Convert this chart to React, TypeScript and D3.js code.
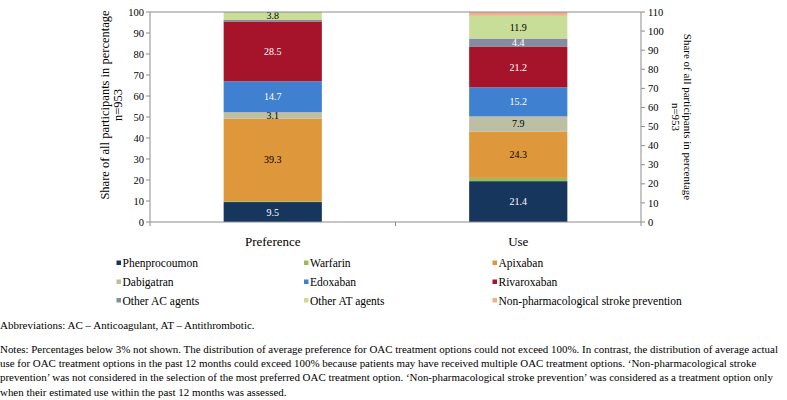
import React from "react";
import * as d3 from "d3";

const categories = ["Preference", "Use"];
const seriesNames = [
  "Phenprocoumon",
  "Warfarin",
  "Apixaban",
  "Dabigatran",
  "Edoxaban",
  "Rivaroxaban",
  "Other AC agents",
  "Other AT agents",
  "Non-pharmacological stroke prevention",
];
const preferenceValues = [9.5, 0.4, 39.3, 3.1, 14.7, 28.5, 0.7, 3.8, 0];
const useValues = [21.4, 1.7, 24.3, 7.9, 15.2, 21.2, 4.4, 11.9, 2.0];
const seriesColors = [
  "#17365D",
  "#9BBB59",
  "#DE973A",
  "#BDBFA2",
  "#3F80D0",
  "#A6142B",
  "#868CA0",
  "#C8DD98",
  "#F0B08E",
];
const labelColors = ["#fff", "#000", "#000", "#000", "#fff", "#fff", "#fff", "#000", "#000"];
const leftTicks = [0, 10, 20, 30, 40, 50, 60, 70, 80, 90, 100];
const rightTicks = [0, 10, 20, 30, 40, 50, 60, 70, 80, 90, 100, 110];
const axisTitle = "Share of all participants in percentage";
const axisSub = "n=953";
const abbreviations = "Abbreviations: AC – Anticoagulant, AT – Antithrombotic.";
const notes = [
  "Notes: Percentages below 3% not shown. The distribution of average preference for OAC treatment options could not exceed 100%. In contrast, the distribution of average actual",
  "use for OAC treatment options in the past 12 months could exceed 100% because patients may have received multiple OAC treatment options. \u2018Non-pharmacological stroke",
  "prevention\u2019 was not considered in the selection of the most preferred OAC treatment option. \u2018Non-pharmacological stroke prevention\u2019 was considered as a treatment option only",
  "when their estimated use within the past 12 months was assessed.",
];

const FONT = '"Liberation Serif", "DejaVu Serif", serif';

export default function App() {
  const W = 787, H = 400;
  const left = 150, right = 641, top = 12, bottom = 222;
  const x = d3.scaleBand<string>().domain(categories).range([left, right]).paddingInner(0.6).paddingOuter(0.3);
  const yL = d3.scaleLinear().domain([0, 100]).range([bottom, top]);
  const yR = d3.scaleLinear().domain([0, 110]).range([bottom, top]);

  const table = categories.map((c, i) => {
    const row: any = { cat: c };
    seriesNames.forEach((s, j) => {
      row[s] = i === 0 ? preferenceValues[j] : useValues[j];
    });
    return row;
  });
  const stacked = d3.stack<any>().keys(seriesNames)(table);
  const scaleFor = (cat: string) => (cat === "Use" ? yR : yL);

  const axisColor = "#8c8c8c";
  const legendCols = [116.5, 304, 492.5];
  const legendRows = [263, 282, 300.5];
  const ts = { fontFamily: FONT };

  return (
    <svg width={W} height={H} style={{ position: "absolute", left: 0, top: 0, background: "#fff", fontFamily: FONT }}>
      <defs>
        <clipPath id="plotClip">
          <rect x={left} y={top} width={right - left} height={bottom - top} />
        </clipPath>
      </defs>
      {/* bars */}
      <g clipPath="url(#plotClip)">
        {stacked.map((layer, si) =>
          layer.map((d, ci) => {
            const cat = categories[ci];
            const y = scaleFor(cat);
            const y0 = y(d[0]);
            const y1 = y(d[1]);
            if (d[1] - d[0] <= 0) return null;
            return (
              <rect
                key={`${si}-${ci}`}
                x={x(cat)}
                y={y1}
                width={x.bandwidth()}
                height={y0 - y1}
                fill={seriesColors[si]}
              />
            );
          })
        )}
      </g>
      {/* labels */}
      {stacked.map((layer, si) =>
        layer.map((d, ci) => {
          const cat = categories[ci];
          const v = d[1] - d[0];
          if (v < 3) return null;
          const y = scaleFor(cat);
          return (
            <text
              key={`l${si}-${ci}`}
              x={(x(cat) as number) + x.bandwidth() / 2}
              y={(y(d[0]) + y(d[1])) / 2}
              dy="0.35em"
              textAnchor="middle"
              fontSize={10}
              fill={labelColors[si]}
              style={ts}
            >
              {v.toFixed(1)}
            </text>
          );
        })
      )}
      {/* plot frame */}
      <line x1={left} x2={right} y1={top} y2={top} stroke={axisColor} strokeWidth={1} />
      <line x1={left} x2={right} y1={bottom} y2={bottom} stroke={axisColor} strokeWidth={1} />
      <line x1={left} x2={left} y1={top} y2={bottom} stroke={axisColor} strokeWidth={1} />
      <line x1={right} x2={right} y1={top} y2={bottom} stroke={axisColor} strokeWidth={1} />
      {/* x ticks */}
      {[left, (left + right) / 2, right].map((tx, i) => (
        <line key={`xt${i}`} x1={tx} x2={tx} y1={bottom} y2={bottom + 4} stroke={axisColor} />
      ))}
      {/* left ticks */}
      {leftTicks.map((t) => (
        <g key={`lt${t}`}>
          <line x1={left - 4} x2={left} y1={yL(t)} y2={yL(t)} stroke={axisColor} />
          <text x={left - 6} y={yL(t)} dy="0.35em" textAnchor="end" fontSize={10.5} fill="#000" style={ts}>
            {t}
          </text>
        </g>
      ))}
      {/* right ticks */}
      {rightTicks.map((t) => (
        <g key={`rt${t}`}>
          <line x1={right} x2={right + 4} y1={yR(t)} y2={yR(t)} stroke={axisColor} />
          <text x={right + 7} y={yR(t)} dy="0.35em" textAnchor="start" fontSize={10.5} fill="#000" style={ts}>
            {t}
          </text>
        </g>
      ))}
      {/* axis titles */}
      <g transform={`translate(105,105) rotate(-90)`}>
        <text textAnchor="middle" dy="0.35em" fontSize={12.5} style={ts}>{axisTitle}</text>
        <text textAnchor="middle" y={13} dy="0.35em" fontSize={12.5} style={ts}>{axisSub}</text>
      </g>
      <g transform={`translate(688,117) rotate(90)`}>
        <text textAnchor="middle" dy="0.35em" fontSize={11} style={ts}>{axisTitle}</text>
        <text textAnchor="middle" y={12} dy="0.35em" fontSize={11} style={ts}>{axisSub}</text>
      </g>
      {/* category labels */}
      {categories.map((c) => (
        <text
          key={c}
          x={(x(c) as number) + x.bandwidth() / 2}
          y={241}
          dy="0.35em"
          textAnchor="middle"
          fontSize={13}
          style={ts}
        >
          {c}
        </text>
      ))}
      {/* legend */}
      {seriesNames.map((s, i) => {
        const col = i % 3;
        const row = Math.floor(i / 3);
        const lx = legendCols[col];
        const ly = legendRows[row];
        return (
          <g key={`lg${i}`}>
            <rect x={lx} y={ly - 2.5} width={4.5} height={4.5} fill={seriesColors[i]} />
            <text x={lx + 6} y={ly} dy="0.35em" fontSize={11.5} style={ts}>
              {s}
            </text>
          </g>
        );
      })}
      {/* notes */}
      <text x={0} y={329} fontSize={11} style={ts}>{abbreviations}</text>
      {notes.map((n, i) => (
        <text key={`n${i}`} x={0} y={353 + i * 14.2} fontSize={10.95} style={ts}>
          {n}
        </text>
      ))}
    </svg>
  );
}
